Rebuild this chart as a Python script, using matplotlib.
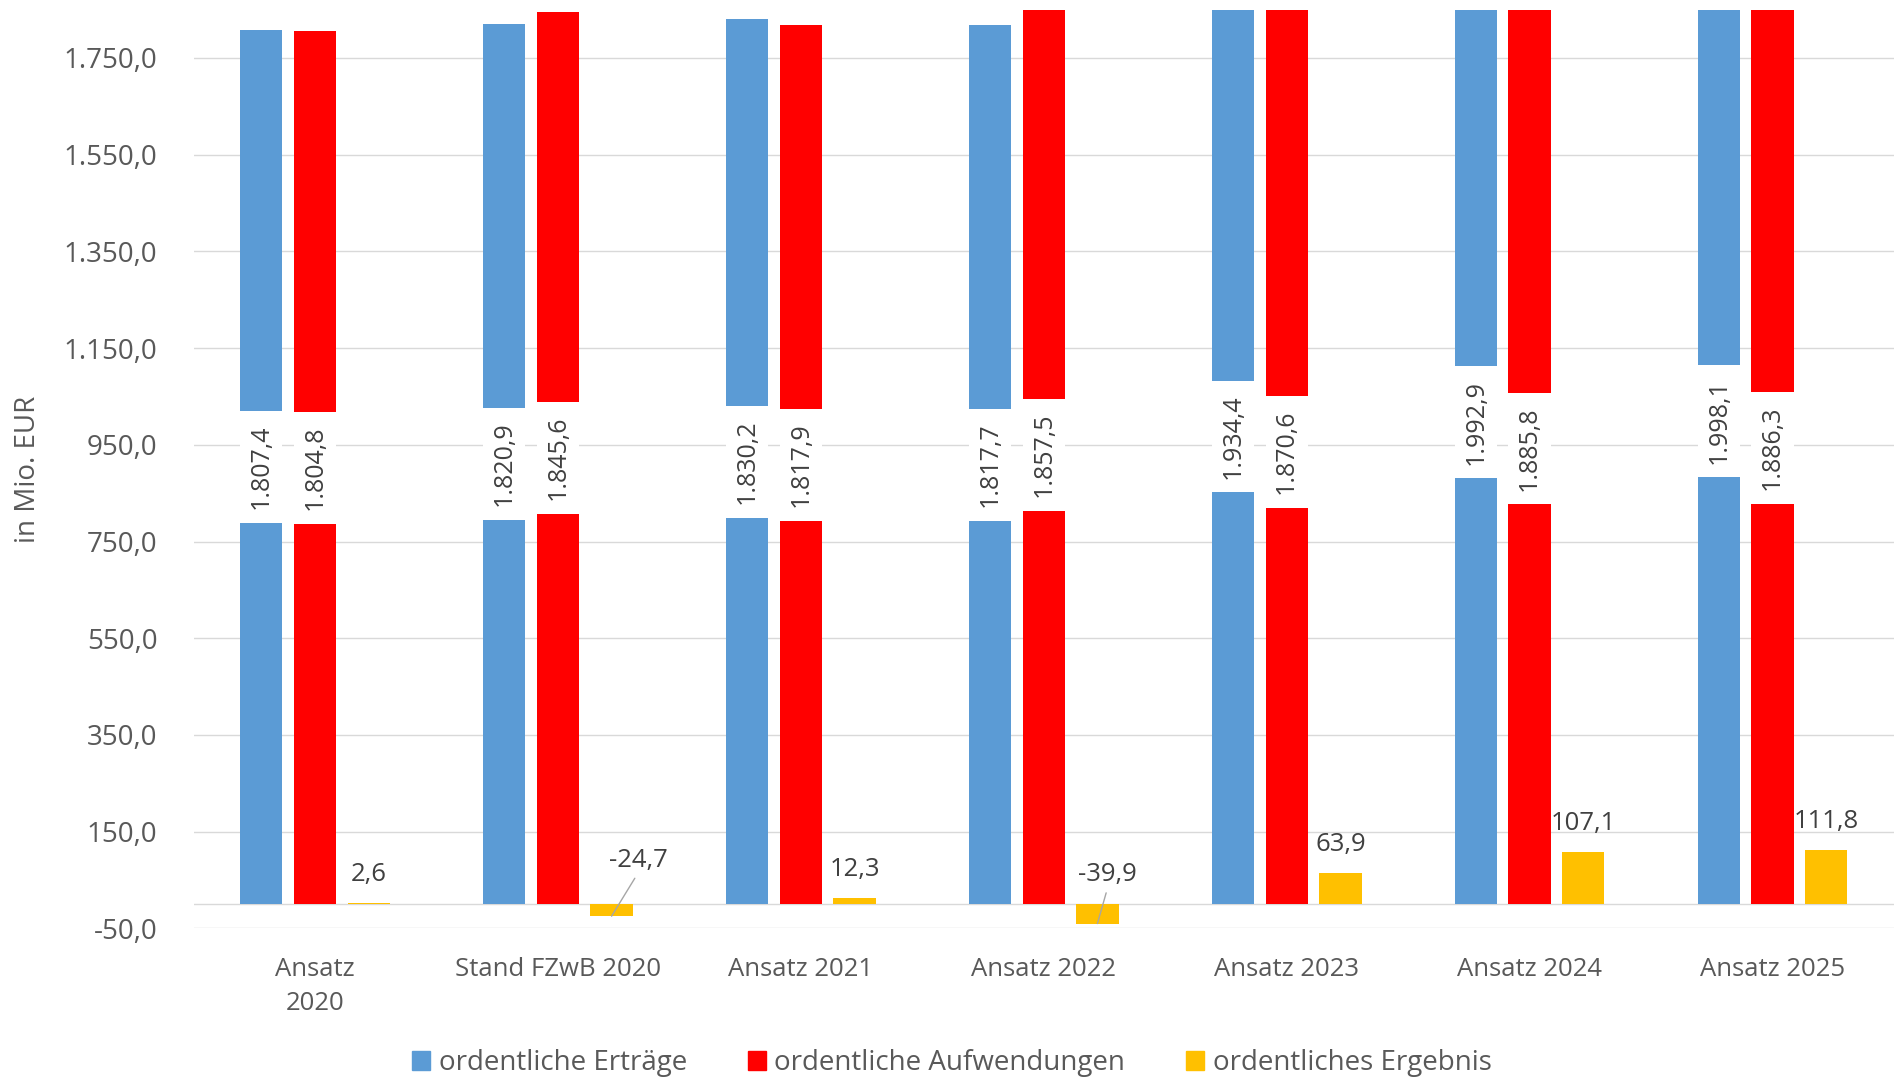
import matplotlib
matplotlib.use("Agg")
import matplotlib.pyplot as plt
from matplotlib.patches import Patch
from matplotlib.path import Path
import numpy as np

plt.rcParams["font.family"] = ["Open Sans", "DejaVu Sans"]

categories = ["Ansatz\n2020", "Stand FZwB 2020", "Ansatz 2021", "Ansatz 2022",
              "Ansatz 2023", "Ansatz 2024", "Ansatz 2025"]
ertraege = [1807.4, 1820.9, 1830.2, 1817.7, 1934.4, 1992.9, 1998.1]
aufwendungen = [1804.8, 1845.6, 1817.9, 1857.5, 1870.6, 1885.8, 1886.3]
ergebnis = [2.6, -24.7, 12.3, -39.9, 63.9, 107.1, 111.8]
y_ticks = [-50, 150, 350, 550, 750, 950, 1150, 1350, 1550, 1750]
series_names = ["ordentliche Erträge", "ordentliche Aufwendungen", "ordentliches Ergebnis"]

C_BLUE = "#5B9BD5"
C_RED = "#FF0000"
C_YELLOW = "#FFC000"
C_GRID = "#D9D9D9"
C_TICK = "#595959"
C_LABEL = "#404040"


def de_fmt(v):
    s = f"{v:,.1f}"
    return s.replace(",", "_").replace(".", ",").replace("_", ".")


def gap_box(x0, y0, width, height, mutation_size):
    # White label box in the text's own frame: padded along the text,
    # fixed thickness across it (about one bar width).
    pad_len = 0.54 * mutation_size
    thick = 1.69 * mutation_size
    cy = y0 + height / 2
    xa, xb = x0 - pad_len, x0 + width + pad_len
    ya, yb = cy - thick / 2, cy + thick / 2
    return Path([(xa, ya), (xb, ya), (xb, yb), (xa, yb), (xa, ya)], closed=True)


W, H = 1894, 1079
fig = plt.figure(figsize=(W / 100, H / 100), dpi=100)
left_px, top_px, bottom_px = 193.5, 9.6, 928.4
ax = fig.add_axes([left_px / W, 1 - bottom_px / H, 1 - left_px / W, (bottom_px - top_px) / H])

x = np.arange(len(categories))
bw = 0.174
off = 0.221

ax.bar(x - off, ertraege, bw, color=C_BLUE, zorder=2)
ax.bar(x, aufwendungen, bw, color=C_RED, zorder=2)
ax.bar(x + off, ergebnis, bw, color=C_YELLOW, zorder=2)

ax.set_xlim(-0.5, len(categories) - 0.5)
ax.set_ylim(-50, 1850)
ax.set_yticks(y_ticks)
ax.set_yticklabels([de_fmt(v) for v in y_ticks], fontsize=20, color=C_TICK)
ax.set_xticks(x)
ax.set_xticklabels(categories, fontsize=18.5, color=C_TICK, linespacing=1.5)
ax.tick_params(axis="both", length=0)
ax.tick_params(axis="y", pad=26)
ax.tick_params(axis="x", pad=20.5)
for s in ax.spines.values():
    s.set_visible(False)
ax.grid(axis="y", color=C_GRID, lw=1.0, zorder=0)
ax.set_axisbelow(True)
ax.axhline(0, color=C_GRID, lw=1.0, zorder=1)

ax.set_ylabel("in Mio. EUR", fontsize=20, color=C_TICK)
ax.yaxis.set_label_coords(-0.089, 0.5)

# value labels in the middle of the large bars, on a white box
for xs, vals in ((x - off, ertraege), (x, aufwendungen)):
    for xi, v in zip(xs, vals):
        ax.text(xi, v / 2, de_fmt(v), rotation=90, ha="center", va="center",
                fontsize=18, color=C_LABEL, zorder=4,
                bbox=dict(boxstyle=gap_box, fc="white", ec="none"))

# result labels; negative ones sit above the axis with a leader line
neg_offsets = {1: (19, 40), 3: (7.4, 35)}
for i, (xi, v) in enumerate(zip(x + off, ergebnis)):
    if v >= 0:
        ax.annotate(de_fmt(v), xy=(xi, v), xytext=(0, 20.5), textcoords="offset points",
                    ha="center", va="center", fontsize=18.5, color=C_LABEL, zorder=4)
    else:
        dx, dy = neg_offsets[i]
        ax.annotate(de_fmt(v), xy=(xi, v), xytext=(dx, dy), textcoords="offset points",
                    ha="center", va="center", fontsize=18.5, color=C_LABEL, zorder=4,
                    arrowprops=dict(arrowstyle="-", color="#A6A6A6", lw=1.0,
                                    relpos=(0.5, 0.0), shrinkA=2, shrinkB=0))

handles = [Patch(color=c) for c in (C_BLUE, C_RED, C_YELLOW)]
leg = fig.legend(handles, series_names, loc="center", bbox_to_anchor=(952 / W, 1 - 1063 / H),
                 ncol=3, frameon=False, fontsize=20, handlelength=0.65, handleheight=0.65,
                 handletextpad=0.3, columnspacing=2.2, borderaxespad=0)
for t in leg.get_texts():
    t.set_color(C_TICK)

fig.savefig("out.png", dpi=100)
